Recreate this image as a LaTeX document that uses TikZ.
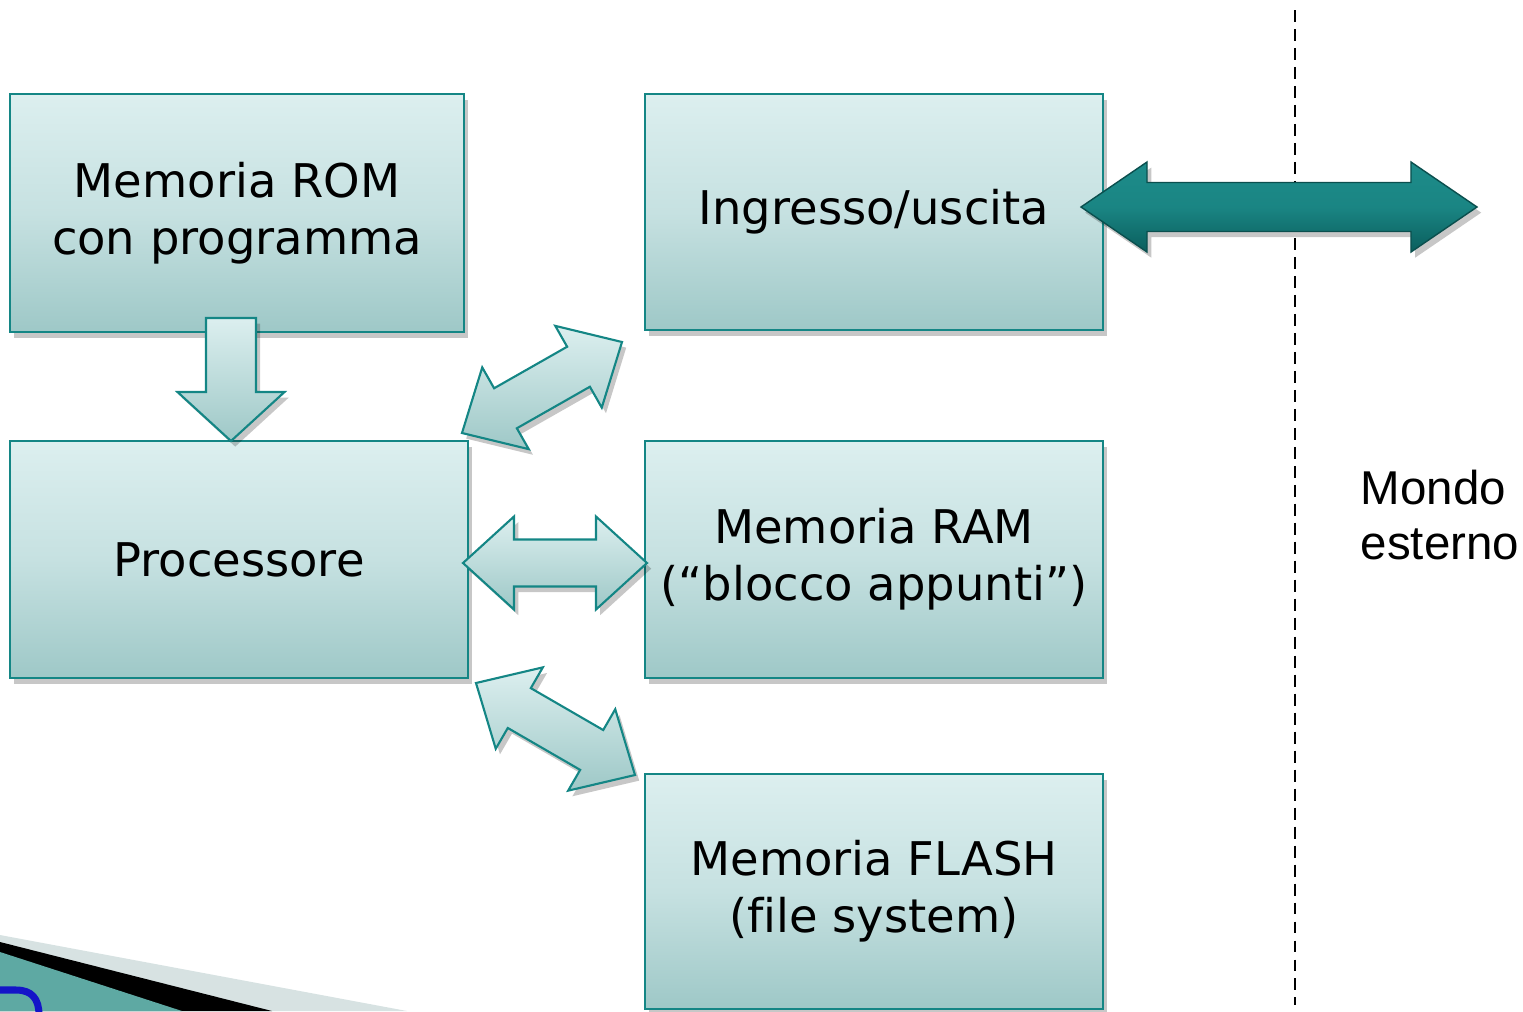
\documentclass[tikz,border=0pt]{standalone}
\usepackage{fontspec}
\setmainfont{DejaVu Sans}[Ligatures=NoCommon]
\newfontfamily\arialfont{Liberation Sans}
\usetikzlibrary{calc,shadows}

\definecolor{boxtop}{HTML}{DCEFEF}
\definecolor{boxmid}{HTML}{C6E1E1}
\definecolor{boxbot}{HTML}{9EC8C7}
\definecolor{tealline}{HTML}{148685}
\definecolor{darktop}{HTML}{1D8C8A}
\definecolor{darkbot}{HTML}{0A5E5D}
\definecolor{darkline}{HTML}{0B4F4E}
\definecolor{swgrey}{HTML}{D7E2E2}
\definecolor{swteal}{HTML}{5EA9A3}
\definecolor{swblue}{HTML}{1414C8}

% double-headed block arrow between two named points
% #1 style, #2 tail tip, #3 head tip, #4 head length, #5 head half width, #6 shaft half width
\newcommand\dblblock[6]{%
  \coordinate (ba-h1) at ($(#2)!#4!(#3)$);
  \coordinate (ba-h2) at ($(#3)!#4!(#2)$);
  \path[#1] (#2)
    -- ($(ba-h1)!#5!90:(#3)$) -- ($(ba-h1)!#6!90:(#3)$)
    -- ($(ba-h2)!#6!90:(#3)$) -- ($(ba-h2)!#5!90:(#3)$)
    -- (#3)
    -- ($(ba-h2)!#5!-90:(#3)$) -- ($(ba-h2)!#6!-90:(#3)$)
    -- ($(ba-h1)!#6!-90:(#3)$) -- ($(ba-h1)!#5!-90:(#3)$)
    -- cycle;}

% single-headed block arrow with a flat tail
\newcommand\sglblock[6]{%
  \coordinate (ba-h2) at ($(#3)!#4!(#2)$);
  \path[#1] ($(#2)!#6!90:(#3)$)
    -- ($(ba-h2)!#6!90:(#3)$) -- ($(ba-h2)!#5!90:(#3)$)
    -- (#3)
    -- ($(ba-h2)!#5!-90:(#3)$) -- ($(ba-h2)!#6!-90:(#3)$)
    -- ($(#2)!#6!-90:(#3)$) -- cycle;}

\begin{document}
\begin{tikzpicture}[x=0.01cm, y=-0.01cm,
  softshadow/.style={drop shadow={shadow xshift=1.2pt, shadow yshift=-1.6pt, opacity=0.22, fill=black}},
  unitbox/.style={draw=tealline, line width=0.7pt,
    top color=boxtop, bottom color=boxbot, middle color=boxmid,
    softshadow, align=center, inner sep=0pt,
    font=\fontsize{13.2pt}{16.2pt}\selectfont},
  lightarrow/.style={draw=tealline, line width=0.6pt, line join=miter,
    top color=boxtop, bottom color=boxbot, softshadow},
  darkarrow/.style={draw=darkline, line width=0.4pt, line join=miter,
    top color=darktop, bottom color=darkbot, middle color=darktop!85!darkbot,
    softshadow}]

\useasboundingbox (0,0) rectangle (1523,1011);

% boundary towards the outside world
\coordinate (dtop) at (1295,10);
\coordinate (dbot) at (1295,1005);
\draw[line width=0.6pt, dash pattern=on 3.4pt off 2pt] (dtop) -- (dbot);

% units of the system
\node[unitbox, minimum width=4.54cm, minimum height=2.38cm] (rom) at (237,213)
  {Memoria ROM\\con programma};
\node[unitbox, minimum width=4.58cm, minimum height=2.36cm] (io) at (874,212)
  {Ingresso/uscita};
\node[unitbox, minimum width=4.58cm, minimum height=2.37cm] (cpu) at (239,559.5)
  {Processore};
\node[unitbox, minimum width=4.58cm, minimum height=2.37cm] (ram) at (874,559.5)
  {Memoria RAM\\(“blocco appunti”)};
\node[unitbox, minimum width=4.58cm, minimum height=2.35cm] (flash) at (874,891.5)
  {Memoria FLASH\\(f\kern0pt ile system)};

\node[anchor=west, align=left, inner sep=0pt,
  font=\arialfont\fontsize{13.5pt}{15.9pt}\selectfont] (mondo) at (1360,515)
  {Mondo\\esterno};

% program flow from ROM into the processor
\coordinate (romout) at (231,318);
\coordinate (cpuin) at (231,441);
\sglblock{lightarrow}{romout}{cpuin}{0.49cm}{0.535cm}{0.25cm}

% processor <-> input/output
\coordinate (cpuio) at (462,433);
\coordinate (iocpu) at (622,342);
\dblblock{lightarrow}{cpuio}{iocpu}{0.50cm}{0.47cm}{0.23cm}

% processor <-> RAM
\coordinate (cpuram) at (463,563);
\coordinate (ramcpu) at (647,563);
\dblblock{lightarrow}{cpuram}{ramcpu}{0.51cm}{0.465cm}{0.235cm}

% processor <-> FLASH
\coordinate (cpufl) at (476,683);
\coordinate (flcpu) at (635,775);
\dblblock{lightarrow}{cpufl}{flcpu}{0.50cm}{0.47cm}{0.23cm}

% input/output <-> outside world
\coordinate (ioext) at (1081,207);
\coordinate (extio) at (1477,207);
\dblblock{darkarrow}{ioext}{extio}{0.66cm}{0.45cm}{0.245cm}

% corner swoosh
\fill[swgrey] (0,935) -- (407,1011) -- (0,1011) -- cycle;
\fill[black] (0,942) -- (272,1011) -- (0,1011) -- cycle;
\fill[swteal] (0,952) -- (182,1011) -- (0,1011) -- cycle;
\draw[swblue, line width=2pt] (-5,990) -- (16,990)
  .. controls (32,990) and (39,999) .. (39,1015);

\end{tikzpicture}
\end{document}
